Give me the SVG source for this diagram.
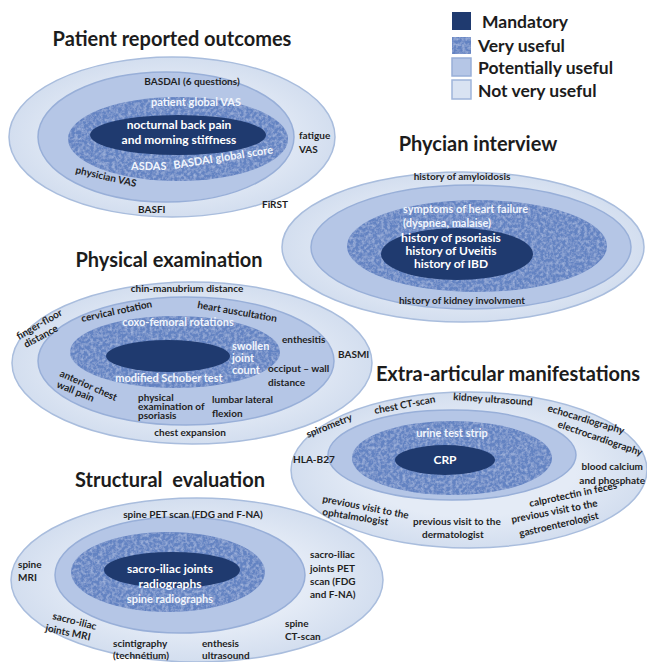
<svg xmlns="http://www.w3.org/2000/svg" width="647" height="662" viewBox="0 0 647 662">
  <defs>
    <style>
      text { font-family: Lato, "Open Sans", "DejaVu Sans", sans-serif; font-weight: bold; }
      .title { font-size: 20px; fill: #1c1c1c; text-anchor: middle; }
      .leg { font-size: 17.5px; fill: #1c1c1c; }
      .s { font-size: 10px; fill: #1f1f1f; }
      .sm { font-size: 10px; fill: #1f1f1f; text-anchor: middle; }
      .e { font-size: 10px; fill: #1f1f1f; text-anchor: end; }
      .lt { font-size: 11px; fill: #f1f5fc; }
      .ltm { font-size: 11px; fill: #f1f5fc; text-anchor: middle; }
      .wm { font-size: 12px; fill: #ffffff; text-anchor: middle; }
      .r4 { fill: url(#ringOuter); stroke: #a9bddd; stroke-width: 1.5; }
      .r3 { fill: #b5c6e6; stroke: #98afd8; stroke-width: 1.5; }
      .r2 { fill: #6483c2; filter: url(#grain); }
      .r1 { fill: #1f3a6f; }
    </style>
    <radialGradient id="ringOuter" cx="50%" cy="50%" r="50%">
      <stop offset="0.6" stop-color="#e4ebf6"/>
      <stop offset="1" stop-color="#d3deef"/>
    </radialGradient>
    <!-- soft mottled texture for the "very useful" band -->
    <filter id="grain" x="-5%" y="-5%" width="110%" height="110%">
      <feTurbulence type="fractalNoise" baseFrequency="0.32" numOctaves="3" seed="4" result="noise"/>
      <feColorMatrix in="noise" type="matrix" values="0 0 0 0 0.56  0 0 0 0 0.66  0 0 0 0 0.87  1.1 0 0 0 -0.42" result="speck"/>
      <feComposite in="speck" in2="SourceAlpha" operator="in" result="clip"/>
      <feMerge><feMergeNode in="SourceGraphic"/><feMergeNode in="clip"/></feMerge>
    </filter>
  </defs>

  <rect width="647" height="662" fill="#ffffff"/>

  <!-- legend -->
  <g id="legend">
    <rect x="452" y="12" width="19" height="18" class="r1"/>
    <rect x="452" y="37" width="19" height="17" class="r2"/>
    <rect x="452" y="58" width="19" height="18" class="r3"/>
    <rect x="452" y="80" width="19" height="19" fill="#d9e3f2" stroke="#9fb5da" stroke-width="1.5"/>
    <text x="482" y="28" class="leg">Mandatory</text>
    <text x="478" y="52" class="leg">Very useful</text>
    <text x="478" y="74" class="leg">Potentially useful</text>
    <text x="478" y="97" class="leg">Not very useful</text>
  </g>

  <!-- patient reported outcomes -->
  <g id="patient-reported-outcomes">
    <text x="172" y="46" class="title">Patient reported outcomes</text>
    <ellipse cx="172" cy="137" rx="163" ry="80" class="r4"/>
    <ellipse cx="166" cy="137" rx="128" ry="65" class="r3"/>
    <ellipse cx="178" cy="139" rx="110" ry="42" class="r2"/>
    <ellipse cx="178" cy="135" rx="88" ry="20" class="r1"/>
    <text x="192" y="85" class="sm" font-size="10.5">BASDAI (6 questions)</text>
    <text x="196" y="106" class="ltm" font-size="13.5">patient global VAS</text>
    <text x="179" y="129" class="wm">nocturnal back pain</text>
    <text x="179" y="144" class="wm">and morning stiffness</text>
    <text x="299" y="139" class="s">fatigue</text>
    <text x="299" y="153" class="s">VAS</text>
    <text x="131" y="170" class="lt" font-size="12">ASDAS</text>
    <text x="174" y="169" class="lt" font-size="12" transform="rotate(-9 174 169)">BASDAI global score</text>
    <text x="75" y="173" class="s" transform="rotate(13 75 173)">physician VAS</text>
    <text x="138" y="213" class="s">BASFI</text>
    <text x="262" y="208" class="s">FiRST</text>
  </g>

  <!-- physician interview -->
  <g id="phycian-interview">
    <text x="478" y="151" class="title">Phycian interview</text>
    <ellipse cx="463" cy="247" rx="181" ry="75" class="r4"/>
    <ellipse cx="471" cy="247" rx="160" ry="62" class="r3"/>
    <ellipse cx="477" cy="246" rx="130" ry="46" class="r2"/>
    <ellipse cx="457" cy="254" rx="76" ry="26" class="r1"/>
    <text x="462" y="180" class="sm" font-size="11">history of amyloidosis</text>
    <text x="403" y="213" class="lt" font-size="10">symptoms of heart failure</text>
    <text x="403" y="227" class="lt" font-size="10">(dyspnea, malaise)</text>
    <text x="451" y="242" class="wm" font-size="10">history of psoriasis</text>
    <text x="451" y="255" class="wm" font-size="10">history of Uveitis</text>
    <text x="451" y="268" class="wm" font-size="10">history of IBD</text>
    <text x="462" y="304" class="sm" font-size="10.5">history of kidney involvment</text>
  </g>

  <!-- physical examination -->
  <g id="physical-examination">
    <text x="169" y="267" class="title">Physical examination</text>
    <ellipse cx="192" cy="363" rx="180" ry="81" class="r4"/>
    <ellipse cx="186" cy="361" rx="148" ry="64" class="r3"/>
    <ellipse cx="175" cy="352" rx="105" ry="36" class="r2"/>
    <ellipse cx="168" cy="356" rx="62" ry="16" class="r1"/>
    <text x="187" y="292" class="sm" font-size="10.5">chin-manubrium distance</text>
    <text x="82" y="322" class="s" transform="rotate(-12 82 322)">cervical rotation</text>
    <text x="197" y="308" class="s" transform="rotate(10 197 308)">heart auscultation</text>
    <text x="178" y="326" class="ltm" font-size="9.5">coxo-femoral rotations</text>
    <text x="19" y="340" class="s" transform="rotate(-30 19 340)">finger-floor</text>
    <text x="26" y="348" class="s" transform="rotate(-28 26 348)">distance</text>
    <text x="282" y="343" class="s">enthesitis</text>
    <text x="232" y="350" class="lt" font-size="10">swollen</text>
    <text x="232" y="362" class="lt" font-size="10">joint</text>
    <text x="232" y="374" class="lt" font-size="10">count</text>
    <text x="338" y="358" class="s">BASMI</text>
    <text x="268" y="372" class="s">occiput – wall</text>
    <text x="268" y="386" class="s">distance</text>
    <text x="169" y="382" class="ltm" font-size="9.5">modified Schober test</text>
    <text x="59" y="376" class="s" transform="rotate(24 59 376)">anterior chest</text>
    <text x="56" y="387" class="s" transform="rotate(22 56 387)">wall pain</text>
    <text x="138" y="400.5" class="s" font-size="9.2">physical</text>
    <text x="138" y="409.5" class="s" font-size="9.2">examination of</text>
    <text x="138" y="418.5" class="s" font-size="9.2">psoriasis</text>
    <text x="212" y="403" class="s">lumbar lateral</text>
    <text x="212" y="417" class="s">flexion</text>
    <text x="190" y="436" class="sm">chest expansion</text>
  </g>

  <!-- extra-articular manifestations -->
  <g id="extra-articular-manifestations">
    <text x="508" y="381" class="title" font-size="19.5">Extra-articular manifestations</text>
    <ellipse cx="469" cy="470" rx="178" ry="78" class="r4"/>
    <ellipse cx="452" cy="455" rx="124" ry="45" class="r3"/>
    <ellipse cx="452" cy="458" rx="100" ry="37" class="r2"/>
    <ellipse cx="445" cy="460" rx="50" ry="15" class="r1"/>
    <text x="375" y="414" class="s" transform="rotate(-11 375 414)">chest CT-scan</text>
    <text x="453" y="400" class="s" transform="rotate(4 453 400)">kidney ultrasound</text>
    <text x="547" y="411" class="s" transform="rotate(17 547 411)">echocardiography</text>
    <text x="557" y="427" class="s" transform="rotate(19 557 427)">electrocardiography</text>
    <text x="308" y="438" class="s" transform="rotate(-22 308 438)">spirometry</text>
    <text x="452" y="437" class="ltm" font-size="12.5">urine test strip</text>
    <text x="445" y="464" class="wm" font-size="12.5">CRP</text>
    <text x="293" y="463" class="s">HLA-B27</text>
    <text x="643" y="470" class="e">blood calcium</text>
    <text x="645" y="484" class="e">and phosphate</text>
    <text x="530" y="507" class="s" transform="rotate(-12 530 507)">calprotectin in feces</text>
    <text x="512" y="523" class="s" transform="rotate(-11 512 523)">previous visit to the</text>
    <text x="520" y="537" class="s" transform="rotate(-13 520 537)">gastroenterologist</text>
    <text x="322" y="502" class="s" transform="rotate(11 322 502)">previous visit to the</text>
    <text x="322" y="515" class="s" transform="rotate(9 322 515)">ophtalmologist</text>
    <text x="413" y="525" class="s">previous visit to the</text>
    <text x="422" y="538" class="s">dermatologist</text>
  </g>

  <!-- structural evaluation -->
  <g id="structural-evaluation">
    <text x="170" y="487" class="title" style="white-space: pre">Structural  evaluation</text>
    <ellipse cx="197" cy="580" rx="186" ry="82" class="r4"/>
    <ellipse cx="180" cy="575" rx="125" ry="58" class="r3"/>
    <ellipse cx="168" cy="572" rx="97" ry="40" class="r2"/>
    <ellipse cx="172" cy="570" rx="68" ry="18" class="r1"/>
    <text x="193" y="518" class="sm" font-size="11">spine PET scan (FDG and F-NA)</text>
    <text x="170" y="573" class="wm" font-size="11.5">sacro-iliac joints</text>
    <text x="170" y="588" class="wm" font-size="11.5">radiographs</text>
    <text x="170" y="603" class="ltm" font-size="11">spine radiographs</text>
    <text x="18" y="568" class="s">spine</text>
    <text x="18" y="581" class="s">MRI</text>
    <text x="52" y="619" class="s" transform="rotate(14 52 619)">sacro-iliac</text>
    <text x="45" y="631" class="s" transform="rotate(12 45 631)">joints MRI</text>
    <text x="113" y="647" class="s">scintigraphy</text>
    <text x="113" y="659" class="s">(technétium)</text>
    <text x="202" y="647" class="s">enthesis</text>
    <text x="202" y="659" class="s">ultrasound</text>
    <text x="285" y="627" class="s">spine</text>
    <text x="285" y="640" class="s">CT-scan</text>
    <text x="310" y="558" class="s">sacro-iliac</text>
    <text x="310" y="572" class="s">joints PET</text>
    <text x="310" y="585" class="s">scan (FDG</text>
    <text x="310" y="598" class="s">and F-NA)</text>
  </g>
</svg>
